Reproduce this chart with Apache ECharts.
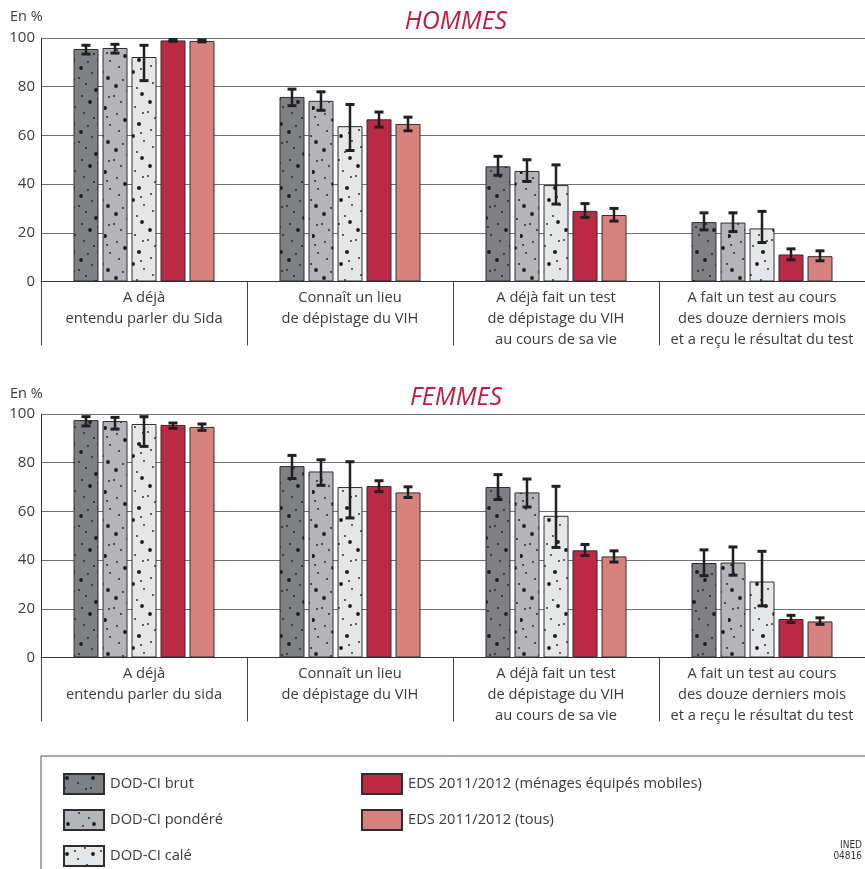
<!DOCTYPE html>
<html>
<head>
<meta charset="utf-8">
<script src="https://cdn.jsdelivr.net/npm/echarts@6/dist/echarts.min.js"></script>
<style>
  html, body { margin: 0; padding: 0; background: #fff; }
  #chart { width: 865px; height: 869px; }
</style>
</head>
<body>
<div id="chart"></div>
<script>
const seriesNames = [
  "DOD-CI brut",
  "DOD-CI pondéré",
  "DOD-CI calé",
  "EDS 2011/2012 (ménages équipés mobiles)",
  "EDS 2011/2012 (tous)",
]
const seriesColors = ["#7f8084", "#b4b5b8", "#e6e7e9", "#bc2944", "#d7827f"]

const hommesCategories = [
  "A déjà\nentendu parler du Sida",
  "Connaît un lieu\nde dépistage du VIH",
  "A déjà fait un test\nde dépistage du VIH\nau cours de sa vie",
  "A fait un test au cours\ndes douze derniers mois\net a reçu le résultat du test",
]
const femmesCategories = [
  "A déjà\nentendu parler du sida",
  "Connaît un lieu\nde dépistage du VIH",
  "A déjà fait un test\nde dépistage du VIH\nau cours de sa vie",
  "A fait un test au cours\ndes douze derniers mois\net a reçu le résultat du test",
]
const yTicks = [0, 20, 40, 60, 80, 100]

// HOMMES
const hommesBrut = [95.5, 75.8, 47.3, 24.4]
const hommesBrutCI = [[93.4, 97.0], [72.2, 79.0], [43.6, 51.4], [21.2, 28.2]]
const hommesPondere = [95.9, 74.2, 45.4, 24.2]
const hommesPondereCI = [[93.8, 97.4], [70.3, 77.9], [41.1, 50.0], [20.5, 28.2]]
const hommesCale = [92.2, 63.8, 39.6, 21.8]
const hommesCaleCI = [[82.5, 97.0], [53.8, 72.7], [31.8, 47.9], [16.0, 28.8]]
const hommesMobiles = [99.0, 66.6, 29.0, 11.1]
const hommesMobilesCI = [[98.6, 99.4], [63.4, 69.6], [26.3, 32.0], [8.9, 13.4]]
const hommesTous = [98.8, 64.7, 27.3, 10.4]
const hommesTousCI = [[98.4, 99.2], [61.9, 67.5], [24.8, 30.0], [8.5, 12.6]]

// FEMMES
const femmesBrut = [97.5, 78.6, 70.0, 38.8]
const femmesBrutCI = [[95.1, 98.9], [73.5, 83.0], [64.9, 75.1], [33.6, 44.2]]
const femmesPondere = [97.1, 76.4, 67.8, 39.0]
const femmesPondereCI = [[93.8, 98.6], [70.7, 81.2], [61.8, 73.3], [33.8, 45.4]]
const femmesCale = [95.9, 70.0, 58.2, 31.2]
const femmesCaleCI = [[86.7, 98.9], [57.3, 80.4], [45.2, 70.3], [21.2, 43.6]]
const femmesMobiles = [95.5, 70.4, 44.0, 15.8]
const femmesMobilesCI = [[94.1, 96.3], [68.1, 72.6], [41.9, 46.4], [14.4, 17.3]]
const femmesTous = [94.7, 67.8, 41.5, 14.8]
const femmesTousCI = [[93.3, 95.9], [65.7, 70.1], [39.2, 43.8], [13.6, 16.3]]

const hommesValues = [hommesBrut, hommesPondere, hommesCale, hommesMobiles, hommesTous]
const hommesCIs = [hommesBrutCI, hommesPondereCI, hommesCaleCI, hommesMobilesCI, hommesTousCI]
const femmesValues = [femmesBrut, femmesPondere, femmesCale, femmesMobiles, femmesTous]
const femmesCIs = [femmesBrutCI, femmesPondereCI, femmesCaleCI, femmesMobilesCI, femmesTousCI]

const BAR_W = 25
const BAR_STEP = 29
const textColor = "#3a3a3a"
const fontFamily = "'Open Sans', 'Noto Sans', sans-serif"

// speckled fill for the DOD-CI bars
const TILE_W = 26
const TILE_H = 64
const dotTile = [
  [3, 4, 1.9], [14, 9, 0.9], [22, 15, 0.9], [8, 20, 0.9], [18, 26, 2], [4, 32, 0.9],
  [12, 38, 1.9], [23, 43, 0.9], [6, 49, 0.9], [16, 54, 0.9], [21, 60, 1.9], [10, 62, 0.9],
  [1, 14, 0.9], [20, 35, 0.9],
]
function speckle(bg, shift) {
  const c = document.createElement("canvas")
  c.width = TILE_W
  c.height = TILE_H
  const ctx = c.getContext("2d")
  ctx.fillStyle = bg
  ctx.fillRect(0, 0, TILE_W, TILE_H)
  ctx.fillStyle = "#1c1c1c"
  dotTile.forEach(([x, y, r]) => {
    ctx.beginPath()
    ctx.arc((x + shift) % TILE_W, (y + shift * 2) % TILE_H, r, 0, Math.PI * 2)
    ctx.fill()
  })
  return { image: c, repeat: "repeat" }
}
const fills = [
  speckle(seriesColors[0], 0),
  speckle(seriesColors[1], 9),
  speckle(seriesColors[2], 17),
  seriesColors[3],
  seriesColors[4],
]

function errorRender(params, api) {
  const cat = api.value(0)
  const lo = api.value(1)
  const hi = api.value(2)
  const s = api.value(3)
  const pTop = api.coord([cat, hi])
  const pBot = api.coord([cat, lo])
  const x = pTop[0] + (s - 2) * BAR_STEP
  const hw = 4.5
  const st = { stroke: "#231f20", lineWidth: 2.5 }
  const cap = { stroke: "#231f20", lineWidth: 3 }
  return {
    type: "group",
    children: [
      { type: "line", shape: { x1: x, y1: pTop[1], x2: x, y2: pBot[1] }, style: st },
      { type: "line", shape: { x1: x - hw, y1: pTop[1], x2: x + hw, y2: pTop[1] }, style: cap },
      { type: "line", shape: { x1: x - hw, y1: pBot[1], x2: x + hw, y2: pBot[1] }, style: cap },
    ],
  }
}

function panelAxes(idx, cats) {
  const xAxis = {
    type: "category",
    gridIndex: idx,
    data: cats,
    axisLine: { lineStyle: { color: "#333", width: 1 } },
    axisTick: { show: true, interval: 0, length: 64, lineStyle: { color: "#444" } },
    axisLabel: {
      interval: 0,
      margin: 6,
      color: textColor,
      fontSize: 14.7,
      lineHeight: 21,
      fontFamily: fontFamily,
    },
  }
  const yAxis = {
    type: "value",
    gridIndex: idx,
    min: 0,
    max: 100,
    interval: 20,
    axisLine: { show: true, lineStyle: { color: "#333" } },
    axisTick: { show: false },
    axisLabel: { color: textColor, fontSize: 15, margin: 6, fontFamily: fontFamily,
      formatter: (v) => (yTicks.includes(v) ? String(v) : "") },
    splitLine: { lineStyle: { color: "#6f6f6f", width: 1 } },
  }
  return { xAxis, yAxis }
}

function panelSeries(idx, values, cis) {
  const out = []
  values.forEach((vals, s) => {
    out.push({
      name: seriesNames[s],
      type: "bar",
      xAxisIndex: idx,
      yAxisIndex: idx,
      data: vals,
      barWidth: BAR_W,
      barGap: "16%",
      itemStyle: { color: fills[s], borderColor: "#2e2e2e", borderWidth: 1 },
      emphasis: { disabled: true },
    })
  })
  const errData = []
  cis.forEach((ci, s) => {
    ci.forEach(([lo, hi], c) => errData.push([c, lo, hi, s]))
  })
  out.push({
    name: "ic" + idx,
    type: "custom",
    xAxisIndex: idx,
    yAxisIndex: idx,
    renderItem: errorRender,
    encode: { x: 0, y: [1, 2] },
    data: errData,
    z: 10,
  })
  return out
}

const axesHommes = panelAxes(0, hommesCategories)
const axesFemmes = panelAxes(1, femmesCategories)

const legendBase = {
  orient: "vertical",
  itemWidth: 40,
  itemHeight: 20,
  itemGap: 14,
  padding: 0,
  selectedMode: false,
  icon: "rect",
  textStyle: { fontSize: 14.7, color: textColor, fontFamily: fontFamily, padding: [0, 0, 0, 1] },
}

const chart = echarts.init(document.getElementById("chart"))
chart.setOption({
  animation: false,
  backgroundColor: "#fff",
  grid: [
    { left: 41, right: -4, top: 38, height: 243.5 },
    { left: 41, right: -4, top: 414, height: 243.5 },
  ],
  xAxis: [axesHommes.xAxis, axesFemmes.xAxis],
  yAxis: [axesHommes.yAxis, axesFemmes.yAxis],
  legend: [
    Object.assign({}, legendBase, { left: 63, top: 773, data: seriesNames.slice(0, 3) }),
    Object.assign({}, legendBase, { left: 361, top: 773, data: seriesNames.slice(3) }),
  ],
  graphic: [
    { type: "text", left: 10, top: 9, style: { text: "En %", fontSize: 14.5, fill: textColor, fontFamily: fontFamily } },
    { type: "text", left: 10, top: 386, style: { text: "En %", fontSize: 14.5, fill: textColor, fontFamily: fontFamily } },
    { type: "text", x: 456, y: 22, style: { text: "HOMMES", fontSize: 25, fontStyle: "italic", fill: "#c01a40",
      fontFamily: fontFamily, align: "center", verticalAlign: "middle" } },
    { type: "text", x: 456, y: 398, style: { text: "FEMMES", fontSize: 25, fontStyle: "italic", fill: "#c01a40",
      fontFamily: fontFamily, align: "center", verticalAlign: "middle" } },
    { type: "rect", shape: { x: 41, y: 756, width: 900, height: 200 }, style: { fill: "none", stroke: "#555", lineWidth: 1 } },
    { type: "text", x: 862, y: 851, style: { text: "INED\n04816", fontSize: 10, lineHeight: 11, fill: "#333",
      fontFamily: "'DejaVu Sans Condensed', 'Liberation Sans Narrow', sans-serif", align: "right", verticalAlign: "middle" } },
  ],
  series: panelSeries(0, hommesValues, hommesCIs).concat(panelSeries(1, femmesValues, femmesCIs)),
})
</script>
</body>
</html>
